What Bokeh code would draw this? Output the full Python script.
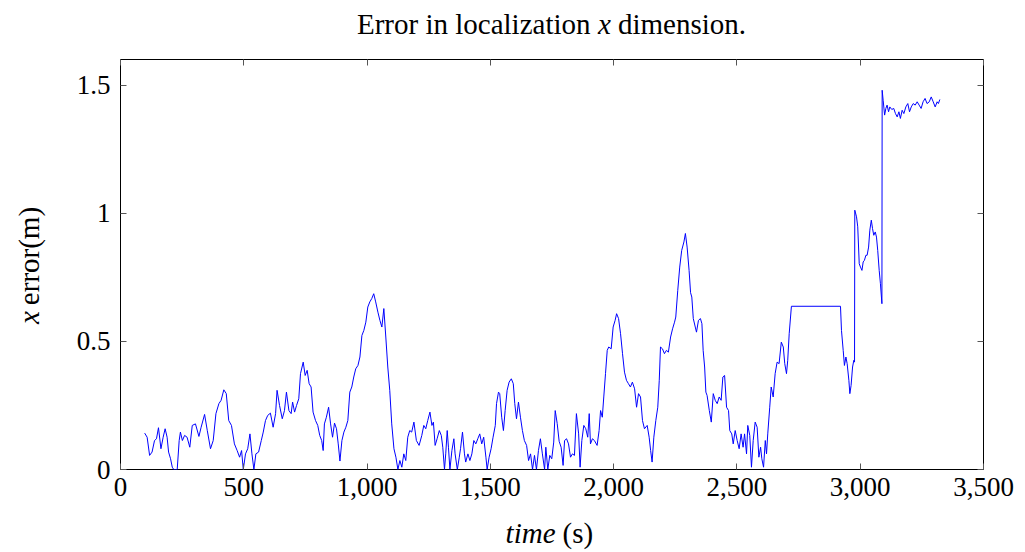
import math
from bokeh.plotting import figure
from bokeh.models import (FixedTicker, LinearAxis, NumeralTickFormatter,
                          CustomJSTickFormatter, Range1d)
from bokeh.layouts import column, row
from bokeh.core.properties import value
from bokeh.embed import file_html
from bokeh.resources import INLINE

# ---- data ----
time_s = [
    98, 108, 118, 128, 138, 146, 154, 164, 173, 181, 189, 195, 203, 210, 216, 230,
    238, 243, 251, 260, 270, 281, 291, 304, 318, 327, 341, 352, 365, 376, 387, 399,
    408, 419, 429, 439, 450, 462, 473, 483, 491, 498, 507, 516, 525, 533, 541, 549,
    560, 571, 579, 588, 597, 608, 619, 629, 635, 645, 656, 665, 673, 683, 692, 698,
    706, 714, 723, 730, 741, 749, 757, 765, 773, 781, 791, 800, 808, 816, 822, 827,
    835, 844, 852, 860, 868, 876, 883, 890, 898, 906, 914, 922, 930, 938, 946, 954,
    963, 971, 979, 987, 995, 1003, 1011, 1019, 1027, 1035, 1044, 1052, 1060, 1068, 1076, 1084,
    1092, 1100, 1109, 1117, 1125, 1133, 1141, 1149, 1157, 1165, 1173, 1181, 1190, 1200, 1211, 1222,
    1230, 1238, 1246, 1255, 1263, 1269, 1276, 1284, 1293, 1301, 1307, 1314, 1319, 1325, 1330, 1336,
    1344, 1352, 1357, 1366, 1374, 1379, 1387, 1395, 1400, 1409, 1417, 1425, 1433, 1441, 1449, 1457,
    1465, 1473, 1482, 1487, 1495, 1503, 1511, 1520, 1525, 1533, 1538, 1546, 1553, 1560, 1568, 1576,
    1585, 1593, 1599, 1606, 1614, 1622, 1630, 1638, 1647, 1655, 1663, 1671, 1679, 1687, 1695, 1703,
    1711, 1720, 1725, 1733, 1741, 1749, 1757, 1763, 1771, 1779, 1787, 1795, 1801, 1809, 1817, 1825,
    1833, 1841, 1849, 1858, 1864, 1871, 1879, 1887, 1895, 1901, 1906, 1914, 1922, 1933, 1941, 1947,
    1954, 1960, 1967, 1974, 1980, 1990, 1998, 2006, 2012, 2020, 2028, 2036, 2044, 2052, 2060, 2068,
    2076, 2085, 2093, 2101, 2109, 2117, 2125, 2136, 2144, 2150, 2156, 2163, 2171, 2179, 2185, 2190,
    2198, 2206, 2214, 2222, 2231, 2239, 2247, 2252, 2260, 2268, 2276, 2285, 2291, 2298, 2306, 2312,
    2317, 2323, 2331, 2336, 2344, 2352, 2358, 2363, 2369, 2374, 2379, 2388, 2396, 2404, 2412, 2420,
    2428, 2436, 2443, 2450, 2458, 2466, 2471, 2479, 2485, 2493, 2501, 2509, 2517, 2525, 2531, 2539,
    2544, 2552, 2559, 2566, 2574, 2582, 2589, 2596, 2601, 2608, 2615, 2620, 2625, 2633, 2639, 2647,
    2655, 2663, 2671, 2680, 2688, 2694, 2701, 2706, 2712, 2721, 2920, 2924, 2931, 2936, 2942, 2947,
    2954, 2958, 2963, 2969, 2974, 2977, 2978, 2985, 2990, 2996, 3001, 3007, 3012, 3017, 3023, 3028,
    3034, 3039, 3045, 3050, 3055, 3061, 3066, 3071, 3077, 3082, 3088, 3089, 3093, 3099, 3104, 3109,
    3115, 3120, 3128, 3136, 3143, 3150, 3157, 3163, 3170, 3177, 3185, 3193, 3200, 3207, 3215, 3223,
    3231, 3239, 3247, 3255, 3263, 3271, 3280, 3288, 3296, 3304, 3312, 3317, 3323,
]
x_error = [
    0.142, 0.126, 0.055, 0.068, 0.113, 0.120, 0.163, 0.081, 0.126, 0.159, 0.126, 0.068, 0.042, 0.009, 0.0, 0.0,
    0.113, 0.146, 0.113, 0.133, 0.126, 0.087, 0.172, 0.178, 0.129, 0.165, 0.215, 0.152, 0.081, 0.113, 0.218, 0.257,
    0.270, 0.311, 0.296, 0.191, 0.172, 0.100, 0.074, 0.048, 0.074, 0.0, 0.061, 0.081, 0.139, 0.061, 0.0, 0.061,
    0.068, 0.113, 0.146, 0.191, 0.211, 0.220, 0.165, 0.218, 0.309, 0.250, 0.198, 0.230, 0.302, 0.230, 0.218, 0.263,
    0.224, 0.250, 0.276, 0.374, 0.419, 0.367, 0.387, 0.335, 0.322, 0.224, 0.191, 0.172, 0.133, 0.113, 0.074, 0.178,
    0.204, 0.243, 0.178, 0.126, 0.181, 0.159, 0.100, 0.033, 0.113, 0.146, 0.165, 0.191, 0.302, 0.322, 0.361, 0.393,
    0.406, 0.439, 0.523, 0.543, 0.575, 0.634, 0.654, 0.667, 0.686, 0.654, 0.614, 0.582, 0.556, 0.628, 0.517, 0.400,
    0.309, 0.178, 0.081, 0.048, 0.0, 0.035, 0.009, 0.061, 0.035, 0.126, 0.152, 0.146, 0.185, 0.113, 0.094, 0.133,
    0.172, 0.159, 0.191, 0.224, 0.172, 0.185, 0.094, 0.120, 0.152, 0.133, 0.087, 0.0, 0.061, 0.152, 0.087, 0.0,
    0.074, 0.120, 0.061, 0.0, 0.048, 0.081, 0.146, 0.061, 0.029, 0.061, 0.035, 0.061, 0.113, 0.100, 0.120, 0.139,
    0.100, 0.126, 0.048, 0.0, 0.048, 0.081, 0.126, 0.172, 0.257, 0.302, 0.296, 0.204, 0.152, 0.230, 0.309, 0.341,
    0.354, 0.335, 0.257, 0.198, 0.263, 0.204, 0.152, 0.113, 0.094, 0.035, 0.061, 0.0, 0.055, 0.0, 0.074, 0.120,
    0.061, 0.0, 0.087, 0.0, 0.055, 0.042, 0.107, 0.230, 0.180, 0.110, 0.087, 0.016, 0.113, 0.120, 0.100, 0.048,
    0.061, 0.055, 0.218, 0.139, 0.009, 0.113, 0.172, 0.159, 0.126, 0.218, 0.100, 0.120, 0.113, 0.094, 0.152, 0.230,
    0.204, 0.283, 0.374, 0.465, 0.478, 0.471, 0.556, 0.582, 0.608, 0.589, 0.530, 0.452, 0.380, 0.348, 0.335, 0.322,
    0.341, 0.315, 0.243, 0.296, 0.283, 0.191, 0.159, 0.172, 0.126, 0.074, 0.029, 0.126, 0.191, 0.243, 0.348, 0.478,
    0.471, 0.452, 0.465, 0.458, 0.517, 0.549, 0.575, 0.595, 0.699, 0.790, 0.855, 0.888, 0.921, 0.868, 0.777, 0.690,
    0.673, 0.589, 0.556, 0.536, 0.582, 0.589, 0.569, 0.465, 0.400, 0.302, 0.289, 0.230, 0.185, 0.296, 0.270, 0.257,
    0.283, 0.270, 0.361, 0.367, 0.243, 0.230, 0.152, 0.139, 0.100, 0.152, 0.113, 0.081, 0.139, 0.087, 0.139, 0.061,
    0.172, 0.133, 0.009, 0.113, 0.185, 0.165, 0.048, 0.087, 0.042, 0.009, 0.113, 0.061, 0.139, 0.243, 0.322, 0.283,
    0.374, 0.419, 0.413, 0.497, 0.478, 0.413, 0.374, 0.426, 0.530, 0.637, 0.637, 0.543, 0.465, 0.406, 0.439, 0.413,
    0.348, 0.296, 0.328, 0.400, 0.426, 0.419, 1.012, 0.986, 0.947, 0.803, 0.790, 0.777, 0.810, 0.816, 0.836, 0.836,
    0.868, 0.934, 0.973, 0.940, 0.914, 0.927, 0.907, 0.855, 0.777, 0.725, 0.647, 1.480, 1.441, 1.383, 1.409, 1.422,
    1.396, 1.415, 1.405, 1.409, 1.389, 1.376, 1.396, 1.370, 1.402, 1.389, 1.415, 1.428, 1.396, 1.415, 1.428, 1.422,
    1.435, 1.422, 1.409, 1.435, 1.448, 1.428, 1.435, 1.454, 1.435, 1.415, 1.435, 1.428, 1.444,
]

x_ticks = [0, 500, 1000, 1500, 2000, 2500, 3000, 3500]
y_ticks = [0, 0.5, 1, 1.5]
y_tick_labels = ["0", "0.5", "1", "1.5"]

title_parts = ["Error in localization", "x", "dimension."]
xlabel_parts = ["time", "(s)"]
ylabel_parts = ["x", "error(m)"]

FONT = "Liberation Serif"
TICK_SIZE = "27px"
LABEL_SIZE = "29px"

W, H = 1025, 552
TITLE_H = 45          # strip above the plot
XLAB_H = 43           # strip below the plot
YLAB_W = 60           # strip left of the plot
MID_H = H - TITLE_H - XLAB_H


def text_strip(width, height):
    f = figure(width=width, height=height, x_range=Range1d(0, width),
               y_range=Range1d(0, height), output_backend="svg",
               toolbar_location=None, title=None, min_border=0,
               x_axis_location=None, y_axis_location=None)
    f.grid.visible = False
    f.outline_line_color = None
    f.background_fill_color = "white"
    f.border_fill_color = "white"
    return f


def put(f, x, y, txt, align, style="normal", angle=0.0):
    f.text(x=[x], y=[y], text=[txt], text_font=value(FONT),
           text_font_size=value(LABEL_SIZE), text_font_style=style,
           text_align=align, text_baseline="alphabetic", text_color="black",
           angle=angle)


# ---- main plot ----
p = figure(width=W - YLAB_W, height=MID_H, x_range=(0, 3500), y_range=(0, 1.6),
           output_backend="svg", toolbar_location=None, title=None,
           min_border_left=120 - YLAB_W, min_border_right=42,
           min_border_top=59 - TITLE_H, min_border_bottom=MID_H - (469 - TITLE_H),
           x_axis_location=None, y_axis_location=None)
p.grid.visible = False
p.outline_line_color = "black"
p.outline_line_alpha = 1.0
p.outline_line_width = 1
p.background_fill_color = "white"
p.border_fill_color = "white"

blank = CustomJSTickFormatter(code="return ''")


def style_axis(ax, ticks):
    ax.ticker = FixedTicker(ticks=ticks)
    ax.axis_line_color = None
    ax.major_tick_in = 6
    ax.major_tick_out = 0
    ax.major_tick_line_color = "#555555"
    ax.major_tick_line_width = 1
    ax.minor_tick_line_color = None
    ax.major_label_text_font = FONT
    ax.major_label_text_font_size = TICK_SIZE
    ax.major_label_text_color = "black"


xb = LinearAxis()
style_axis(xb, x_ticks)
xb.formatter = NumeralTickFormatter(format="0,0")
xb.major_label_standoff = 8
p.add_layout(xb, "below")

xt = LinearAxis(formatter=blank)
style_axis(xt, x_ticks)
xt.major_label_standoff = 0
p.add_layout(xt, "above")

yl = LinearAxis()
style_axis(yl, y_ticks)
yl.major_label_overrides = {t: s for t, s in zip(y_ticks, y_tick_labels)}
yl.major_label_standoff = 10
p.add_layout(yl, "left")

yr = LinearAxis(formatter=blank)
style_axis(yr, y_ticks)
yr.major_label_standoff = 0
p.add_layout(yr, "right")

p.line(time_s, x_error, line_color="#0000ff", line_width=1.0)

# ---- title strip ----
ft = text_strip(W, TITLE_H)
t_base = TITLE_H - 23
put(ft, 590, t_base, title_parts[0], "right")
put(ft, 604, t_base, title_parts[1], "center", "italic")
put(ft, 617.5, t_base, title_parts[2], "left")

# ---- y-label strip ----
fy = text_strip(YLAB_W, MID_H)
put(fy, 28, TITLE_H + MID_H - 337, ylabel_parts[0], "center", "italic", math.pi / 2)
put(fy, 28, TITLE_H + MID_H - 323, ylabel_parts[1], "left", "normal", math.pi / 2)

# ---- x-label strip ----
fx = text_strip(W, XLAB_H)
x_base = H - 532
put(fx, 555, x_base, xlabel_parts[0], "right", "italic")
put(fx, 562, x_base, xlabel_parts[1], "left")

layout = column(ft, row(fy, p, spacing=0), fx, spacing=0)

open("out.html", "w").write(file_html(layout, INLINE))
